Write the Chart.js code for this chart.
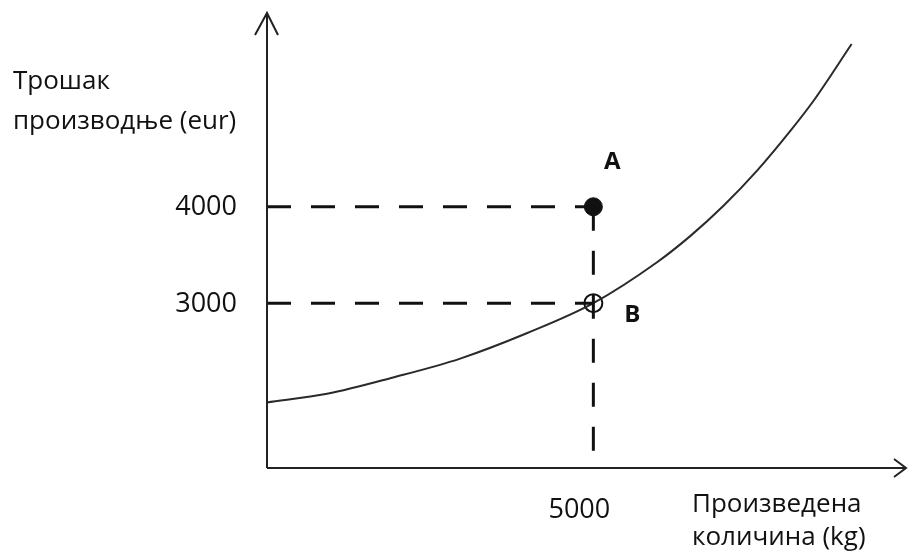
<!DOCTYPE html>
<html>
<head>
<meta charset="utf-8">
<script src="https://cdn.jsdelivr.net/npm/chart.js@4"></script>
<style>
  html, body { margin: 0; padding: 0; background: #fff; }
  #wrap { width: 908px; height: 558px; position: relative; }
</style>
</head>
<body>
<div id="wrap"><canvas id="cost-chart"></canvas></div>
<script>
// troškovna kriva, očitano sa slike
var curveX = [0, 920, 1932, 2960, 3988, 5000, 5981, 6488, 6994, 7515, 8021, 8374, 8957];
var curveY = [1970, 2060, 2229, 2425, 2690, 3000, 3427, 3698, 4010, 4380, 4790, 5100, 5688];

var pointNames = ['A', 'B'];
var pointX = [5000, 5000];
var pointY = [4000, 3000];

var yTicks = [4000, 3000];
var xTicks = [5000];

var xMin = 0, xMax = 9790;
var yMin = 1290, yMax = 6010;

var curveData = curveX.map(function (x, i) { return { x: x, y: curveY[i] }; });

var dashStyle = { borderColor: '#111', borderWidth: 3, borderDash: [24, 20], pointRadius: 0, fill: false, tension: 0 };

function dashedLine(a, b) {
  return Object.assign({ data: [a, b] }, dashStyle);
}

var font = "'Open Sans', 'Noto Sans', sans-serif";

var axesPlugin = {
  id: 'axesPlugin',
  afterDraw: function (chart) {
    var ctx = chart.ctx;
    var xs = chart.scales.x, ys = chart.scales.y;
    var x0 = xs.getPixelForValue(xMin);
    var y0 = ys.getPixelForValue(yMin);
    var xr = xs.getPixelForValue(xMax);
    var yt = ys.getPixelForValue(yMax);
    ctx.save();
    ctx.strokeStyle = '#222';
    ctx.lineWidth = 2;
    ctx.beginPath();
    ctx.moveTo(x0, y0); ctx.lineTo(x0, yt);
    ctx.moveTo(x0, y0); ctx.lineTo(xr, y0);
    // strelice
    ctx.moveTo(x0 - 12, yt + 22); ctx.lineTo(x0, yt); ctx.lineTo(x0 + 11, yt + 22);
    ctx.moveTo(xr - 12, y0 - 9); ctx.lineTo(xr, y0); ctx.lineTo(xr - 12, y0 + 9);
    ctx.stroke();

    ctx.fillStyle = '#111';
    ctx.font = '27px ' + font;
    ctx.textAlign = 'right';
    ctx.textBaseline = 'middle';
    yTicks.forEach(function (v) {
      ctx.fillText(String(v), x0 - 30, ys.getPixelForValue(v) + 1);
    });
    ctx.textAlign = 'center';
    xTicks.forEach(function (v) {
      ctx.fillText(String(v), xs.getPixelForValue(v) - 14, y0 + 42);
    });

    ctx.font = '26px ' + font;
    ctx.textAlign = 'left';
    ctx.fillText('Трошак', 13, 82);
    ctx.fillText('производње (eur)', 13, 122);
    ctx.fillText('Произведена', 692, 505);
    ctx.fillText('количина (kg)', 692, 538);

    ctx.font = 'bold 24px ' + font;
    ctx.textAlign = 'center';
    ctx.fillText(pointNames[0], xs.getPixelForValue(pointX[0]) + 19, ys.getPixelForValue(pointY[0]) - 45);
    ctx.fillText(pointNames[1], xs.getPixelForValue(pointX[1]) + 39, ys.getPixelForValue(pointY[1]) + 12);
    ctx.restore();
  }
};

new Chart(document.getElementById('cost-chart'), {
  type: 'line',
  data: {
    datasets: [
      dashedLine({ x: xMin, y: pointY[0] }, { x: pointX[0], y: pointY[0] }),
      dashedLine({ x: xMin, y: pointY[1] }, { x: pointX[1], y: pointY[1] }),
      dashedLine({ x: pointX[0], y: pointY[0] }, { x: pointX[0], y: yMin }),
      {
        data: curveData,
        borderColor: '#2a2a2a',
        borderWidth: 2,
        pointRadius: 0,
        cubicInterpolationMode: 'monotone',
        fill: false
      },
      {
        data: [{ x: pointX[0], y: pointY[0] }],
        showLine: false,
        pointRadius: 9,
        pointBackgroundColor: '#111',
        pointBorderColor: '#111',
        pointBorderWidth: 1
      },
      {
        data: [{ x: pointX[1], y: pointY[1] }],
        showLine: false,
        pointRadius: 9,
        pointBackgroundColor: 'rgba(255,255,255,0)',
        pointBorderColor: '#111',
        pointBorderWidth: 2
      }
    ]
  },
  options: {
    responsive: true,
    maintainAspectRatio: false,
    animation: false,
    layout: { autoPadding: false, padding: { left: 267, right: 2, top: 13, bottom: 90 } },
    plugins: { legend: { display: false }, tooltip: { enabled: false } },
    scales: {
      x: { type: 'linear', min: xMin, max: xMax, display: false },
      y: { type: 'linear', min: yMin, max: yMax, display: false }
    }
  },
  plugins: [axesPlugin]
});
</script>
</body>
</html>
